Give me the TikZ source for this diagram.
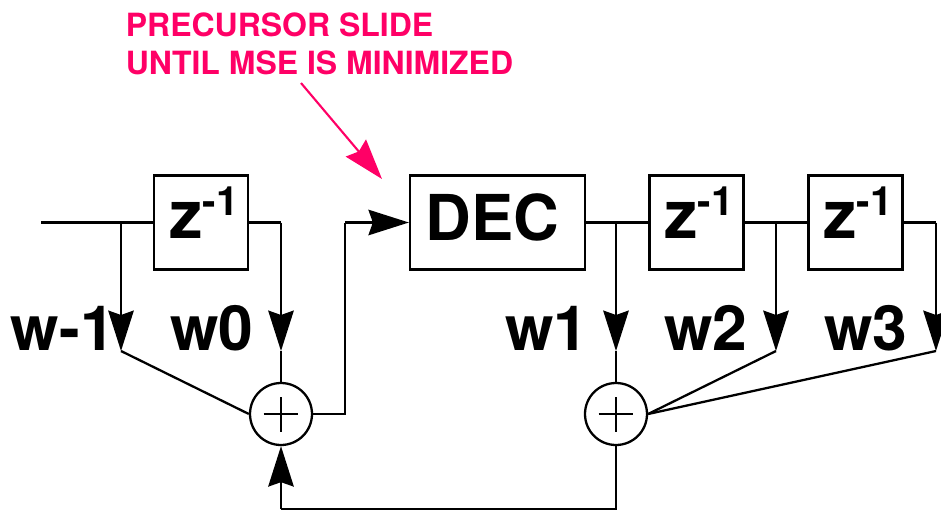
\documentclass[tikz,border=0pt]{standalone}
\usepackage{fontspec}
\setmainfont{TeX Gyre Heros}
\usetikzlibrary{arrows.meta}
\definecolor{slidepink}{HTML}{FF0066}
\tikzset{
  delaybox/.style={draw,line width=1.3pt,minimum size=1.88cm,inner sep=0pt},
  sumnode/.style={draw,circle,line width=1.3pt,minimum size=1.24cm,inner sep=0pt,
    path picture={\draw[line width=1pt] (path picture bounding box.center) ++(-0.35cm,0) -- ++(0.7cm,0);
      \draw[line width=1pt] (path picture bounding box.center) ++(0,-0.35cm) -- ++(0,0.7cm);}},
  wire/.style={line width=1.3pt},
  tap/.style={line width=1.3pt,-{Stealth[length=23pt,width=14.5pt,inset=2.5pt]}},
  biglabel/.style={anchor=base west,inner sep=0pt,font=\fontsize{35.5}{35.5}\selectfont\bfseries},
  note/.style={anchor=base west,inner sep=0pt,text=slidepink,font=\fontsize{18.2}{18.2}\selectfont\bfseries}
}
\newcommand{\zinv}{z\raisebox{0.33em}{\fontsize{23}{23}\selectfont -1}}
\begin{document}
\begin{tikzpicture}[x=0.02cm,y=-0.02cm]
        \useasboundingbox (0,0) rectangle (941,511);

        % Boxes along the top
        \node[delaybox] (z1) at (201,222.5) {};
        \node[delaybox,minimum width=3.5cm] (dec) at (497.5,222.5) {};
        \node[delaybox] (z2) at (696.5,222.5) {};
        \node[delaybox] (z3) at (855.5,222.5) {};
        \node[biglabel] (z1text) at (169,238) {\fontsize{38}{38}\selectfont\zinv};
        \node[biglabel] (dectext) at (425,240) {\fontsize{36}{36}\selectfont DEC};
        \node[biglabel] (z2text) at (664,238) {\fontsize{38}{38}\selectfont\zinv};
        \node[biglabel] (z3text) at (823,238) {\fontsize{38}{38}\selectfont\zinv};

        % Summing junctions
        \node[sumnode] (sum1) at (281,414) {};
        \node[sumnode] (sum2) at (616,414) {};

        % Weights
        \node[biglabel] (wm1) at (10,350) {w-1};
        \node[biglabel] (w0) at (170,350) {w0};
        \node[biglabel] (w1) at (505,350) {w1};
        \node[biglabel] (w2) at (664,350) {w2};
        \node[biglabel] (w3) at (824,350) {w3};

        % Tap points
        \coordinate (in) at (41,222.5);
        \coordinate (tapm1) at (121,222.5);
        \coordinate (tipm1) at (121,351);
        \coordinate (tap0) at (281,222.5);
        \coordinate (tip0) at (281,351);
        \coordinate (tap1) at (616,222.5);
        \coordinate (tip1) at (616,351);
        \coordinate (tap2) at (776,222.5);
        \coordinate (tip2) at (776,351);
        \coordinate (tap3) at (936,222.5);
        \coordinate (tip3) at (936,351);
        \coordinate (turn) at (345,414);
        \coordinate (corner) at (345,222.5);
        \coordinate (bottomr) at (616,509);
        \coordinate (bottoml) at (281,509);

        % Delay line
        \draw[wire] (in) -- (z1.west);
        \draw[wire] (z1.east) -- (tap0);
        \draw[wire] (dec.east) -- (z2.west);
        \draw[wire] (z2.east) -- (z3.west);
        \draw[wire] (z3.east) -- (tap3);

        % Taps into the adders
        \draw[tap] (tapm1) -- (tipm1);
        \draw[tap] (tap0) -- (tip0);
        \draw[tap] (tap1) -- (tip1);
        \draw[tap] (tap2) -- (tip2);
        \draw[tap] (tap3) -- (tip3);
        \draw[wire] (tipm1) -- (sum1.west);
        \draw[wire] (tip0) -- (sum1.north);
        \draw[wire] (tip1) -- (sum2.north);
        \draw[wire] (tip2) -- (sum2.east);
        \draw[wire] (tip3) -- (sum2.east);

        % Into the decision block and feedback
        \draw[wire] (sum1.east) -- (turn) -- (corner);
        \draw[tap] (corner) -- (dec.west);
        \draw[wire] (sum2.south) -- (bottomr) -- (bottoml);
        \draw[tap] (bottoml) -- (sum1.south);

        % Note on top
        \node[note] (note1) at (125.5,36) {PRECURSOR SLIDE};
        \node[note] (note2) at (125.5,74) {UNTIL MSE IS MINIMIZED};
        \coordinate (notefrom) at (301,83);
        \coordinate (noteto) at (382,179);
        \draw[draw=slidepink,line width=1.2pt,-{Stealth[length=23pt,width=15pt,inset=2.5pt,slidepink]}] (notefrom) -- (noteto);
    \end{tikzpicture}
\end{document}
